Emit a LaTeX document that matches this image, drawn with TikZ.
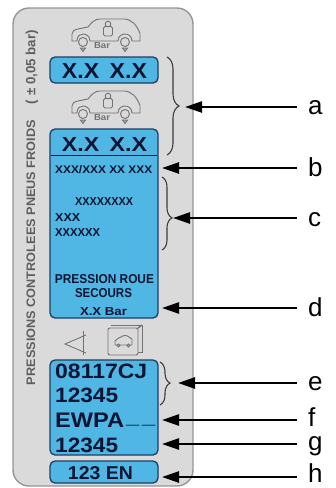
\documentclass[tikz,border=0pt]{standalone}
\usepackage{fontspec}
\setmainfont{Liberation Sans}
\usetikzlibrary{arrows.meta,decorations.pathreplacing}
\definecolor{panelfill}{RGB}{218,218,218}
\definecolor{panelline}{RGB}{150,150,150}
\definecolor{boxblue}{RGB}{80,182,228}
\definecolor{boxline}{RGB}{28,62,100}
\definecolor{ink}{RGB}{12,22,52}
\definecolor{icongrey}{RGB}{115,115,115}
\definecolor{sidegrey}{RGB}{95,95,95}
\definecolor{bracegrey}{RGB}{60,60,60}
\newcommand{\fitbox}[3]{\resizebox{#1pt}{#2pt}{#3}}
\newcommand{\carIcon}[2]{%
  \begin{scope}[shift={(0,#1)}]
    \draw[iconline] (77,41) -- (72,41) -- (72,34) .. controls (72,31) and (74,30) .. (78,29) -- (88,27)
      .. controls (92,22) and (95,19) .. (100,19) -- (124,19) .. controls (132,19) and (137,26) .. (140,33)
      -- (140,41) -- (132,41) .. controls (132,36) and (128,34) .. (125,34) .. controls (122,34) and (118,36) .. (118,41)
      -- (90,41) .. controls (90,36) and (86,34) .. (83,34) .. controls (80,34) and (77,36) .. (77,41);
    \draw[iconline] (83,42) circle[radius=4.5] (125,42) circle[radius=4.5];
    \draw[iconline, fill=icongrey!60] (80.5,48) -- (85.5,48) -- (83,51.5) -- cycle;
    \draw[iconline, fill=icongrey!60] (122.5,48) -- (127.5,48) -- (125,51.5) -- cycle;
    \draw[iconline] (108,24) circle[radius=2.8];
    \draw[iconline, rounded corners=1.5pt] (103.5,26.5) rectangle (112.5,36);
    \node[anchor=base, inner sep=0pt, text=icongrey] (#2) at (102,48) {\fitbox{16}{6}{\bfseries Bar}};
  \end{scope}}
\tikzset{
  panel/.style={draw=panelline, fill=panelfill, line width=1.4pt, rounded corners=16pt},
  bluebox/.style={draw=boxline, fill=boxblue, line width=1.3pt, rounded corners=5pt, inner sep=0pt, minimum width=108pt},
  boxtext/.style={inner sep=0pt, text=ink, font=\bfseries},
  iconline/.style={draw=icongrey, line width=0.9pt},
  lab/.style={font=\fontsize{26}{30}\selectfont, inner sep=0pt, anchor=base west},
  arr/.style={line width=2.4pt, -{Triangle[length=17pt,width=11pt]}, shorten <=11pt},
  bracestyle/.style={draw=bracegrey, line width=1.1pt, decorate},
}
\begin{document}
\begin{tikzpicture}[x=1pt,y=-1pt]
\useasboundingbox (0,0) rectangle (336,488);
% panel
\draw[panel] (13,8) rectangle (193,486);
% vertical texts
\node[rotate=90, inner sep=0pt, text=sidegrey] (side) at (31,252.5) {\fitbox{265}{8.6}{\bfseries PRESSIONS CONTROLEES PNEUS FROIDS}};
\node[rotate=90, inner sep=0pt, text=sidegrey] (tol) at (32,67) {\resizebox{74pt}{!}{\bfseries ( ± 0,05 bar)}};
% car icons
\carIcon{0}{bar1}
\carIcon{72}{bar2}
% boxes
\node[bluebox, minimum height=26pt] (box1) at (104,70) {};
\node[bluebox, minimum height=189pt] (box2) at (104,223.5) {};
\node[bluebox, minimum height=95pt] (box3) at (104,407.5) {};
\node[bluebox, minimum height=22pt] (box4) at (104,472) {};
% box 1
\node[boxtext, anchor=base] (t1) at (104.5,78) {\fitbox{85}{15}{X.X\hspace{0.45em}X.X}};
% box 2
\node[boxtext, anchor=base] (t2) at (104.5,151) {\fitbox{85}{14}{X.X\hspace{0.45em}X.X}};
\draw[draw=ink, line width=1.8pt] (51,155.5) -- (157,155.5);
\node[boxtext, anchor=base west] (t3) at (55,173) {\fitbox{97}{8}{XXX/XXX XX XXX}};
\node[boxtext, anchor=base] (t4) at (104,205) {\fitbox{58}{8}{XXXXXXXX}};
\node[boxtext, anchor=base west] (t5) at (55,221) {\fitbox{25}{8}{XXX}};
\node[boxtext, anchor=base west] (t6) at (55,236) {\fitbox{45}{8}{XXXXXX}};
\node[boxtext, anchor=base] (t7) at (104.5,283) {\fitbox{99}{9}{PRESSION ROUE}};
\node[boxtext, anchor=base] (t8) at (103.5,297) {\fitbox{57}{9}{SECOURS}};
\node[boxtext, anchor=base] (t9) at (103.5,315) {\fitbox{47}{8}{X.X Bar}};
% icons between box2 and box3
\draw[iconline] (83,331) -- (83,355);
\draw[iconline] (86,335) -- (65,344) -- (86,353);
\draw[iconline] (111,325) -- (142,325) -- (142,352) -- (138,352);
\draw[iconline, line width=1.4pt] (138,328) -- (142,325);
\draw[iconline, rounded corners=2pt] (108,328) rectangle (138,355);
\draw[iconline] (115,345) -- (115,341) .. controls (116,339) and (119,338) .. (121,337) .. controls (123,335) and (127,335) .. (129,337) -- (132,339) -- (132,345) -- cycle;
\draw[iconline] (118.5,345.5) circle[radius=1.6] (128.5,345.5) circle[radius=1.6];
% box 3
\node[boxtext, anchor=base west] (t10) at (55,378) {\fitbox{92}{14.5}{08117CJ}};
\node[boxtext, anchor=base west] (t11) at (55,402) {\fitbox{63}{14.5}{12345}};
\node[boxtext, anchor=base west] (t12) at (55,427) {\fitbox{100}{14.5}{EWPA\hspace{0.08em}\raisebox{0.16em}{\_}\hspace{0.12em}\raisebox{0.16em}{\_}}};
\node[boxtext, anchor=base west] (t13) at (55,452.5) {\fitbox{63}{14.5}{12345}};
% box 4
\node[boxtext, anchor=base] (t14) at (100.5,479) {\fitbox{65}{13}{123 EN}};
% braces
\draw[bracestyle, decoration={brace, amplitude=12pt}] (167,57) -- (167,155);
\draw[bracestyle, decoration={brace, amplitude=10pt, aspect=0.56}] (162,177) -- (162,250);
\draw[bracestyle, decoration={brace, amplitude=10pt, aspect=0.49}] (160,362) -- (160,405);
% targets
\coordinate (ta) at (185,107);
\coordinate (tb) at (162,168);
\coordinate (tc) at (173,218);
\coordinate (td) at (162,308);
\coordinate (te) at (178,383);
\coordinate (tf) at (162,420);
\coordinate (tg) at (162,444);
\coordinate (th) at (162,477);
% labels
\node[lab] (la) at (308,114) {a};
\node[lab] (lb) at (308,176) {b};
\node[lab] (lc) at (308,226) {c};
\node[lab] (ld) at (308,316) {d};
\node[lab] (le) at (308,390) {e};
\node[lab] (lf) at (308,426) {f};
\node[lab] (lg) at (308,450) {g};
\node[lab] (lh) at (308,482) {h};
% arrows
\foreach \n in {a,b,c,d,e,f,g,h}{
  \draw[arr] (l\n.west |- t\n) -- (t\n);
}
\end{tikzpicture}
\end{document}
